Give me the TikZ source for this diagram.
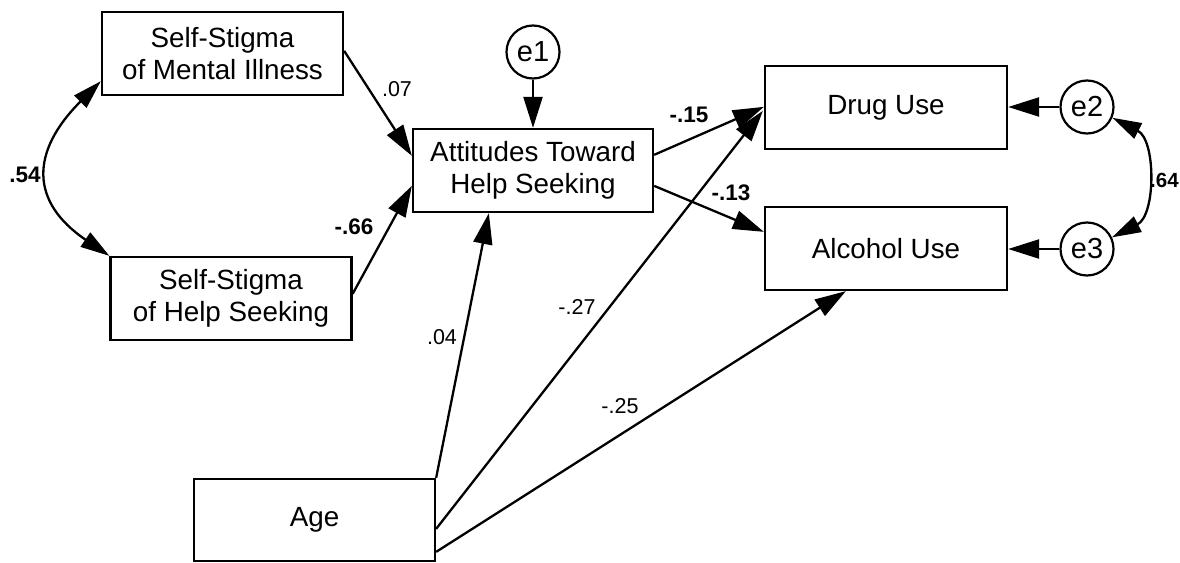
\documentclass[tikz,border=0pt]{standalone}
\usepackage{fontspec}
\setmainfont{Liberation Sans}
\usetikzlibrary{arrows.meta,calc}
\begin{document}
\begin{tikzpicture}[x=1pt,y=-1pt,
  box/.style={draw, line width=2.3pt, minimum width=241pt, minimum height=83pt, inner sep=0pt, align=center, font=\fontsize{27.8}{31.5}\selectfont},
  err/.style={draw, circle, line width=2.2pt, minimum size=53pt, inner sep=0pt, font=\fontsize{29}{31}\selectfont},
  pth/.style={line width=2.3pt, -{Triangle[length=31pt,width=19pt]}},
  cov/.style={line width=2.3pt, {Triangle[length=29pt,width=17pt]}-{Triangle[length=29pt,width=17pt]}},
  reglab/.style={inner sep=0pt, font=\fontsize{21.5}{24}\selectfont},
  bldlab/.style={inner sep=0pt, font=\fontsize{22.5}{26}\selectfont\bfseries}
]
\useasboundingbox (0,0) rectangle (1180,562);

% boxes
\node[box] (ssmi) at (222.5,53.5) {Self-Stigma\\of Mental Illness};
\node[box] (sshs) at (231,298.5) {Self-Stigma\\of Help Seeking};
\node[box, minimum width=240pt] (att) at (533,170.5) {Attitudes Toward\\Help Seeking};
\node[box, minimum width=242pt] (drug) at (886,107.5) {Drug Use};
\node[box, minimum width=242pt] (alc) at (886,248.5) {Alcohol Use};
\node[box, minimum height=82pt] (age) at (314.5,520) {Age};

% error terms
\node[err] (e1) at (533,52) {e1};
\node[err] (e2) at (1087,107) {e2};
\node[err] (e3) at (1087,249) {e3};

% paths
\draw[pth] ($(ssmi.north east)+(0,40)$) -- ($(att.north west)+(0,28)$);
\draw[pth] ($(sshs.north east)+(0,38)$) -- ($(att.north west)+(0,58)$);
\draw[pth] ($(att.north east)+(0,27)$) -- ($(drug.north west)+(0,42)$);
\draw[pth] ($(att.north east)+(0,58)$) -- ($(alc.north west)+(0,26)$);
\draw[pth] (age.north east) -- ($(att.south west)+(77,0)$);
\draw[pth] ($(age.north east)+(0,51)$) -- ($(drug.north west)+(-1,46)$);
\draw[pth] ($(age.north east)+(0,74)$) -- ($(alc.south west)+(82,0)$);
\draw[pth] (e1.south) -- (att.north);
\draw[pth] (e2.west) -- (e2.west -| drug.east);
\draw[pth] (e3.west) -- (e3.west -| alc.east);

% covariances
\draw[cov] ($(ssmi.south west)+(0,-15)$) .. controls (30,152) and (30,202) .. (sshs.north west);
\draw[cov] (e2.-23) .. controls (1156,140) and (1156,215) .. (e3.25);

% labels
\node[reglab] (l07) at (397,89) {.07};
\node[bldlab] (l66) at (354,227) {-.66};
\node[bldlab] (l54) at (25,175) {.54};
\node[bldlab] (l15) at (689,115) {-.15};
\node[bldlab] (l13) at (731,193) {-.13};
\node[reglab] (l04) at (442,337) {.04};
\node[reglab] (l27) at (577,307) {-.27};
\node[reglab] (l25) at (620,406) {-.25};
\node[bldlab, anchor=west, font=\fontsize{20.5}{24}\selectfont\bfseries] (l64) at (1150,180) {.64};
\end{tikzpicture}
\end{document}
